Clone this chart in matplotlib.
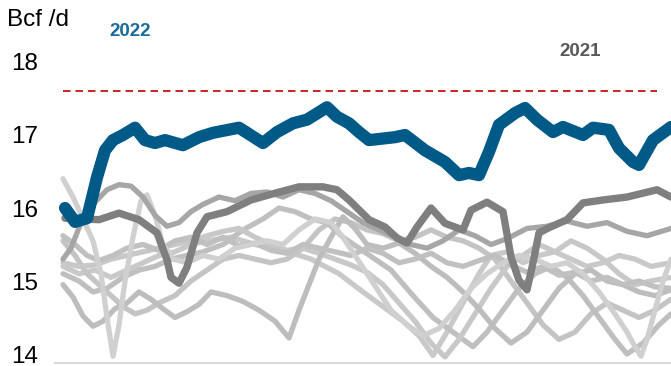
import matplotlib.pyplot as plt

plt.rcParams['font.family'] = ['Liberation Sans', 'DejaVu Sans']

# 30-day average output, Bcf/d, by day of the period
x2022 = [1, 6, 12, 17, 21, 25, 30, 36, 41, 46, 51, 60, 68, 75, 88, 100, 107, 115, 122, 132,
         137, 143, 148, 153, 166, 171, 181, 191, 198, 203, 208, 213, 218, 226, 231, 237, 245,
         250, 260, 265, 273, 278, 285, 288, 295, 304]
y2022 = [16.00, 15.81, 15.86, 16.42, 16.79, 16.93, 17.00, 17.10, 16.93, 16.89, 16.93, 16.86,
         16.97, 17.03, 17.10, 16.89, 17.04, 17.16, 17.21, 17.38, 17.25, 17.16, 17.04, 16.93,
         16.97, 17.00, 16.79, 16.63, 16.45, 16.48, 16.45, 16.77, 17.14, 17.30, 17.37, 17.21,
         17.04, 17.11, 17.00, 17.10, 17.07, 16.82, 16.63, 16.59, 16.93, 17.11]

x2021 = [1, 18, 28, 38, 47, 52, 54, 58, 62, 67, 72, 82, 94, 107, 118, 130, 137, 143, 153, 161,
         167, 172, 177, 184, 191, 200, 204, 212, 220, 224, 228, 232, 235, 238, 243, 252, 260,
         270, 282, 297, 304]
y2021 = [15.86, 15.84, 15.93, 15.84, 15.66, 15.29, 15.05, 14.97, 15.19, 15.66, 15.88, 15.95,
         16.11, 16.21, 16.29, 16.29, 16.25, 16.11, 15.84, 15.74, 15.59, 15.52, 15.74, 16.00,
         15.79, 15.70, 15.97, 16.08, 15.95, 15.33, 15.01, 14.88, 15.25, 15.66, 15.73, 15.84,
         16.07, 16.11, 16.15, 16.25, 16.15]

x2020 = [0, 4, 9, 15, 22, 28, 34, 40, 46, 52, 58, 64, 70, 78, 86, 94, 102, 110, 118, 126, 134,
         142, 150, 158, 166, 174, 182, 190, 198, 206, 214, 222, 232, 242, 252, 262, 272, 282,
         292, 304]
y2020 = [15.3, 15.45, 15.8, 16.05, 16.25, 16.32, 16.3, 16.15, 15.9, 15.75, 15.8, 15.95, 16.05,
         16.15, 16.1, 16.2, 16.22, 16.15, 16.25, 16.2, 16.1, 15.95, 15.8, 15.7, 15.6, 15.5,
         15.45, 15.55, 15.7, 15.62, 15.5, 15.58, 15.72, 15.75, 15.82, 15.75, 15.8, 15.68,
         15.62, 15.72]

x2019 = [0, 5, 10, 15, 19, 22, 25, 28, 31, 35, 39, 42, 46, 50, 55, 62, 70, 78, 86, 94, 102,
         110, 118, 126, 134, 140, 146, 152, 158, 164, 172, 180, 188, 196, 204, 212, 220, 228,
         236, 244, 252, 260, 268, 276, 282, 286, 289, 292, 296, 300, 304]
y2019 = [16.4, 16.15, 15.85, 15.55, 15.1, 14.5, 13.97, 14.4, 15.0, 15.6, 16.1, 16.18, 15.9,
         15.5, 15.3, 15.25, 15.35, 15.3, 15.45, 15.5, 15.55, 15.5, 15.7, 15.85, 15.8, 15.6,
         15.35, 15.1, 14.85, 14.6, 14.4, 14.25, 14.35, 14.6, 14.9, 15.1, 15.25, 15.35, 15.3,
         15.2, 15.25, 15.1, 14.85, 14.55, 14.3, 14.1, 13.97, 14.2, 14.6, 15.0, 15.3]

x2018 = [0, 6, 12, 18, 25, 32, 40, 48, 56, 64, 72, 80, 88, 96, 104, 112, 120, 128, 136, 144,
         152, 160, 168, 176, 184, 192, 200, 208, 216, 224, 232, 240, 248, 256, 264, 272, 280,
         288, 296, 304]
y2018 = [15.62, 15.5, 15.35, 15.28, 15.35, 15.45, 15.5, 15.42, 15.55, 15.6, 15.5, 15.6, 15.48,
         15.52, 15.42, 15.38, 15.5, 15.45, 15.4, 15.35, 15.45, 15.38, 15.25, 15.3, 15.38, 15.25,
         15.2, 15.28, 15.35, 15.22, 15.12, 15.2, 15.08, 15.12, 15.0, 15.05, 14.95, 15.0, 14.92,
         14.9]

x2017 = [0, 5, 10, 15, 20, 26, 32, 38, 44, 50, 56, 62, 68, 74, 82, 90, 98, 106, 113, 118, 123,
         128, 134, 140, 146, 152, 160, 168, 176, 184, 192, 200, 208, 216, 224, 232, 240, 248,
         256, 264, 272, 280, 288, 296, 304]
y2017 = [14.95, 14.78, 14.52, 14.38, 14.45, 14.62, 14.7, 14.85, 14.75, 14.62, 14.5, 14.58,
         14.68, 14.85, 14.8, 14.72, 14.6, 14.45, 14.22, 14.6, 14.95, 15.3, 15.6, 15.88, 15.72,
         15.5, 15.45, 15.52, 15.38, 15.2, 15.05, 14.85, 14.62, 14.35, 14.15, 14.3, 14.6, 14.9,
         15.1, 15.15, 15.0, 14.95, 14.85, 14.8, 14.88]

x2016 = [0, 8, 16, 24, 32, 40, 48, 56, 64, 72, 80, 88, 96, 104, 112, 120, 128, 136, 144, 152,
         160, 168, 176, 184, 191, 198, 206, 214, 222, 230, 238, 246, 254, 262, 270, 278, 286,
         294, 304]
y2016 = [15.25, 15.2, 15.22, 15.3, 15.35, 15.4, 15.45, 15.5, 15.55, 15.62, 15.68, 15.72, 15.6,
         15.5, 15.42, 15.45, 15.38, 15.3, 15.22, 15.12, 14.95, 14.7, 14.45, 14.15, 13.96, 14.2,
         14.55, 14.9, 15.2, 15.35, 15.5, 15.4, 15.55, 15.45, 15.3, 15.1, 14.95, 15.0, 15.05]

x2015 = [0, 8, 15, 22, 30, 38, 46, 54, 62, 70, 80, 90, 100, 108, 116, 124, 132, 140, 148, 156,
         164, 175, 185, 195, 205, 212, 220, 228, 236, 244, 252, 260, 268, 276, 282, 290, 298,
         304]
y2015 = [15.1, 15.0, 14.85, 14.9, 15.05, 15.15, 15.2, 15.3, 15.35, 15.4, 15.5, 15.7, 15.85,
         16.0, 15.95, 15.85, 15.8, 15.6, 15.45, 15.3, 15.15, 14.8, 14.5, 14.3, 14.1, 14.3, 14.6,
         14.9, 15.1, 15.2, 15.05, 14.8, 14.5, 14.2, 14.0, 14.15, 14.4, 14.55]

x2014 = [0, 6, 12, 18, 24, 30, 36, 42, 48, 56, 64, 72, 80, 88, 96, 104, 112, 120, 128, 136, 144,
         152, 160, 168, 176, 184, 192, 200, 208, 216, 224, 232, 240, 248, 256, 264, 272, 280,
         288, 296, 304]
y2014 = [15.55, 15.35, 15.1, 14.95, 14.8, 14.65, 14.55, 14.6, 14.7, 14.8, 15.0, 15.15, 15.3,
         15.35, 15.3, 15.25, 15.3, 15.45, 15.7, 15.85, 15.8, 15.7, 15.65, 15.55, 15.6, 15.7, 15.6,
         15.55, 15.45, 15.3, 15.0, 14.7, 14.4, 14.2, 14.3, 14.55, 14.7, 14.6, 14.5, 14.6, 14.75]

x2013 = [0, 8, 16, 24, 32, 40, 48, 56, 64, 72, 84, 96, 110, 124, 138, 150, 160, 170, 178, 185,
         192, 200, 208, 214, 222, 230, 238, 246, 254, 262, 270, 278, 286, 294, 304]
y2013 = [15.2, 15.1, 15.15, 15.05, 15.15, 15.25, 15.35, 15.4, 15.5, 15.55, 15.6, 15.5, 15.42,
         15.3, 15.1, 14.85, 14.65, 14.45, 14.25, 13.98, 14.3, 14.7, 15.1, 15.35, 15.4, 15.25,
         15.35, 15.4, 15.3, 15.2, 15.25, 15.35, 15.3, 15.2, 15.25]

capacity = 17.6
yticks = [14, 15, 16, 17, 18]

light = [
    (x2013, y2013, '#c9c9c9'),
    (x2014, y2014, '#c4c4c4'),
    (x2015, y2015, '#bfbfbf'),
    (x2016, y2016, '#c8c8c8'),
    (x2017, y2017, '#bdbdbd'),
    (x2018, y2018, '#c0c0c0'),
    (x2019, y2019, '#d0d0d0'),
    (x2020, y2020, '#a6a6a6'),
]

fig = plt.figure(figsize=(6.71, 3.66), dpi=100)
ax = fig.add_axes([55 / 671, 3 / 366, 616 / 671, 363 / 366])

for xs, ys, c in light:
    ax.plot(xs, ys, color=c, lw=3.8, solid_joinstyle='round', solid_capstyle='round')

ax.plot(x2021, y2021, color='#7f7f7f', lw=5.3, solid_joinstyle='round', solid_capstyle='round')
ax.plot(x2022, y2022, color='#005a87', lw=8.8, solid_joinstyle='round', solid_capstyle='round')

ax.plot([0, 297], [capacity, capacity], color='#c00000', lw=1.2, dashes=(4.5, 3))

ax.set_xlim(-4, 304)
ax.set_ylim(13.877, 18.849)
ax.set_yticks(yticks)
ax.set_yticklabels([str(t) for t in yticks], fontsize=17.5)
ax.tick_params(axis='y', length=0, pad=12)
ax.set_xticks([])
for s in ['top', 'right', 'left']:
    ax.spines[s].set_visible(False)
ax.spines['bottom'].set_color('#d9d9d9')
ax.spines['bottom'].set_linewidth(1.5)

fig.text(7 / 671, 1 - 20 / 366, 'Bcf /d', fontsize=17.5, va='center', ha='left')
fig.text(130 / 671, 1 - 31 / 366, '2022', fontsize=13.5, fontweight='bold', color='#1a6a9a',
         va='center', ha='center')
fig.text(580 / 671, 1 - 51 / 366, '2021', fontsize=13.5, fontweight='bold', color='#595959',
         va='center', ha='center')

fig.savefig('out.png', dpi=100)
